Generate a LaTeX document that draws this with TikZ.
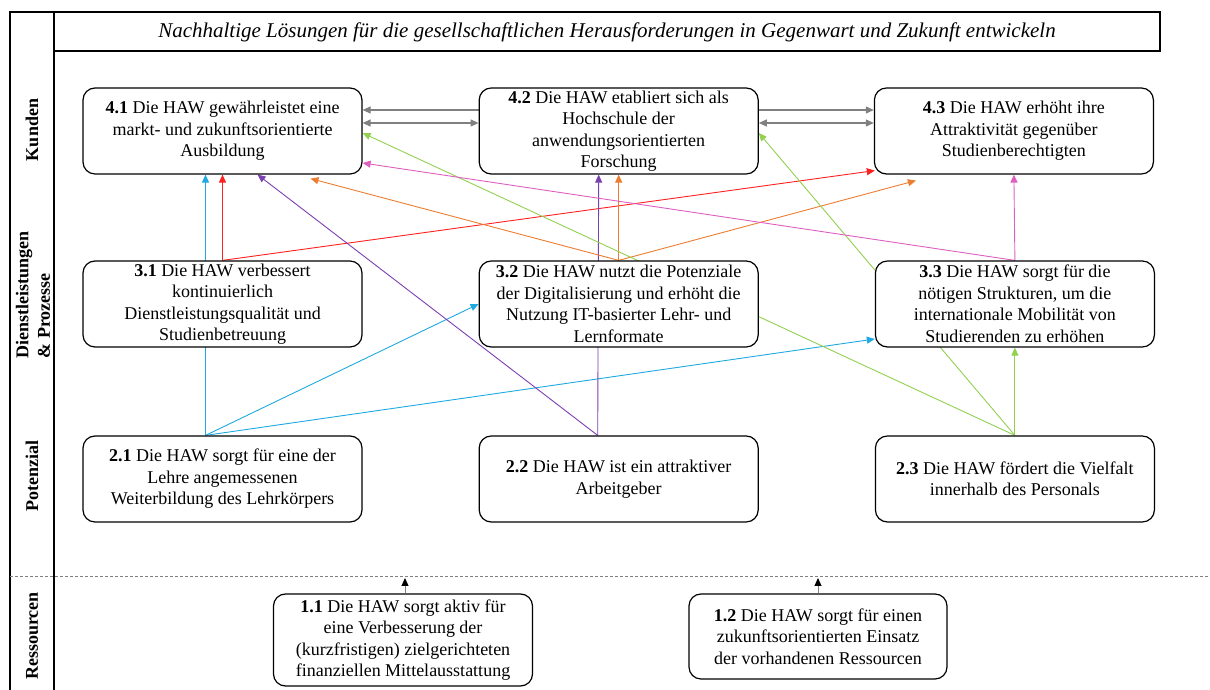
\documentclass[tikz,border=0pt]{standalone}
\usepackage{fontspec}
\setmainfont{Liberation Serif}
\usetikzlibrary{positioning, calc, arrows.meta, backgrounds}

\definecolor{lcyan}{HTML}{1FA9E1}
\definecolor{lred}{HTML}{FF2020}
\definecolor{lpurple}{HTML}{7A3FB0}
\definecolor{lorange}{HTML}{ED7D31}
\definecolor{lgreen}{HTML}{92D050}
\definecolor{lpink}{HTML}{DE5FC0}
\definecolor{lgray}{HTML}{808080}

\begin{document}
\begin{tikzpicture}[
    x=1pt, y=1pt,
    every node/.style={font=\fontsize{18}{21.5}\selectfont},
    box/.style={
        rectangle,
        draw,
        line width=1.2pt,
        rounded corners=12pt,
        fill=white,
        minimum width=279pt,
        minimum height=86pt,
        inner xsep=2pt,
        inner ysep=0pt,
        align=center
    },
    lane/.style={
        rotate=90,
        font=\fontsize{18}{21.5}\selectfont\bfseries
    },
    arrow/.style={
        -{Triangle[length=8pt,width=7pt]},
        line width=0.9pt
    },
    twoway/.style={
        {Triangle[length=8pt,width=7pt]}-{Triangle[length=8pt,width=7pt]},
        line width=1.2pt,
        draw=lgray
    }
]
\useasboundingbox (0,0) rectangle (1210,690);

% Rahmen
\draw[line width=1.2pt] (10,0) -- (10,678) -- (1160,678) -- (1160,639) -- (54,639);
\draw[line width=1.2pt] (54,0) -- (54,678);
\draw[lgray, line width=0.7pt, dash pattern=on 3pt off 2pt] (10,114) -- (1210,114);

\node[font=\fontsize{21}{25}\selectfont\itshape] (titel) at (607,658)
    {Nachhaltige Lösungen für die gesellschaftlichen Herausforderungen in Gegenwart und Zukunft entwickeln};

% Perspektiven
\node[lane] (kunden) at (32,560) {Kunden};
\node[lane, align=left, anchor=west] (dienst) at (33,328) {Dienstleistungen\\ \& Prozesse};
\node[lane] (potenzial) at (32,214) {Potenzial};
\node[lane] (ressourcen) at (32,54) {Ressourcen};

% Ziele
\node[box] (k41) at (222.5,559) {\textbf{4.1} Die HAW gewährleistet eine\\ markt- und zukunftsorientierte\\ Ausbildung};
\node[box, right=116pt of k41] (k42) {\textbf{4.2} Die HAW etabliert sich als\\ Hochschule der\\ anwendungsorientierten\\ Forschung};
\node[box, right=115pt of k42] (k43) {\textbf{4.3} Die HAW erhöht ihre\\ Attraktivität gegenüber\\ Studienberechtigten};

\node[box] (d31) at (222.5,386) {\textbf{3.1} Die HAW verbessert\\ kontinuierlich\\ Dienstleistungsqualität und\\ Studienbetreuung};
\node[box, right=116pt of d31] (d32) {\textbf{3.2} Die HAW nutzt die Potenziale\\ der Digitalisierung und erhöht die\\ Nutzung IT-basierter Lehr- und\\ Lernformate};
\node[box, right=116pt of d32] (d33) {\textbf{3.3} Die HAW sorgt für die\\ nötigen Strukturen, um die\\ internationale Mobilität von\\ Studierenden zu erhöhen};

\node[box] (p21) at (222.5,211) {\textbf{2.1} Die HAW sorgt für eine der\\ Lehre angemessenen\\ Weiterbildung des Lehrkörpers};
\node[box, right=116pt of p21] (p22) {\textbf{2.2} Die HAW ist ein attraktiver\\ Arbeitgeber};
\node[box, right=116pt of p22] (p23) {\textbf{2.3} Die HAW fördert die Vielfalt\\ innerhalb des Personals};

\node[box, minimum width=259pt, minimum height=92pt] (r11) at (403,50) {\textbf{1.1} Die HAW sorgt aktiv für\\ eine Verbesserung der\\ (kurzfristigen) zielgerichteten\\ finanziellen Mittelausstattung};
\node[box, minimum width=258pt, minimum height=85pt] (r12) at (818,53.5) {\textbf{1.2} Die HAW sorgt für einen\\ zukunftsorientierten Einsatz\\ der vorhandenen Ressourcen};

\coordinate (z11) at (405,112);
\coordinate (z12) at (818,112);

% Pfeile
\begin{scope}[on background layer]
\draw[arrow, lgray, line width=1.2pt] ($(k42.west)+(0,21)$) -- ($(k41.east)+(0,21)$);
\draw[twoway] ($(k41.east)+(0,8)$) -- ($(k42.west)+(0,8)$);
\draw[arrow, lgray, line width=1.2pt] ($(k42.east)+(0,21)$) -- ($(k43.west)+(0,21)$);
\draw[twoway] ($(k42.east)+(0,8)$) -- ($(k43.west)+(0,8)$);

\draw[arrow, lcyan] ($(p21.north)+(-17,0)$) -- ($(k41.south)+(-17,0)$);
\draw[arrow, lcyan] ($(p21.north)+(-17,0)$) -- (d32.west);
\draw[arrow, lcyan] ($(p21.north)+(-17,0)$) -- ($(d33.west)+(0,-35)$);

\draw[arrow, lred] (d31.north) -- (k41.south);
\draw[arrow, lred] (d31.north) -- ($(k43.south west)+(1,4)$);

\draw[arrow, lpurple] ($(p22.north)+(-21,0)$) -- ($(k41.south)+(35,0)$);
\draw[arrow, lpurple] ($(p22.north)+(-21,0)$) -- ($(k42.south)+(-20,0)$);

\draw[arrow, lorange] (d32.north) -- ($(k41.south)+(88,-4)$);
\draw[arrow, lorange] (d32.north) -- (k42.south);
\draw[arrow, lorange] (d32.north) -- ($(k43.south)+(-98,-6)$);

\draw[arrow, lgreen] (p23.north) -- ($(k41.east)+(0,-2)$);
\draw[arrow, lgreen] (p23.north) -- ($(k42.east)+(0,-2)$);
\draw[arrow, lgreen] (p23.north) -- (d33.south);

\draw[arrow, lpink] (d33.north) -- (k43.south);
\draw[arrow, lpink] (d33.north) -- ($(k41.east)+(0,-32)$);

\draw[-{Triangle[length=8pt,width=7pt,color=black]}, lgray, line width=1pt] ($(r11.north)+(2,0)$) -- (z11);
\draw[-{Triangle[length=8pt,width=7pt,color=black]}, lgray, line width=1pt] (r12.north) -- (z12);
\end{scope}

\end{tikzpicture}
\end{document}
